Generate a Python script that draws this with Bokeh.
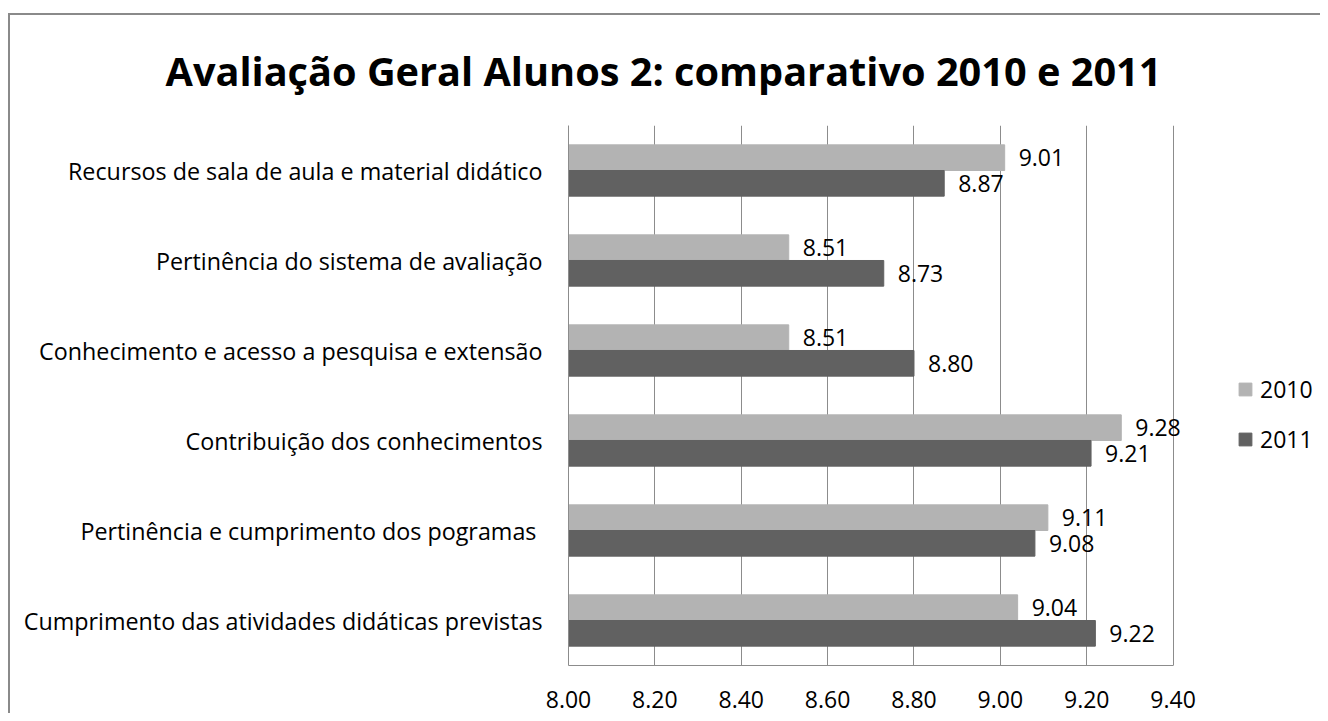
from bokeh.plotting import figure
from bokeh.models import (FactorRange, Range1d, FixedTicker, PrintfTickFormatter,
                          Legend, LegendItem, ColumnDataSource)
from bokeh.transform import dodge
from bokeh.core.properties import value
from bokeh.embed import file_html
from bokeh.resources import INLINE

# ---- data (top to bottom in the reference) ----
categories = [
    "Recursos de sala de aula e material didático",
    "Pertinência do sistema de avaliação",
    "Conhecimento e acesso a pesquisa e extensão",
    "Contribuição dos conhecimentos",
    "Pertinência e cumprimento  dos pogramas",
    "Cumprimento das atividades didáticas previstas",
]
values_2010 = [9.01, 8.51, 8.51, 9.28, 9.11, 9.04]
values_2011 = [8.87, 8.73, 8.80, 9.21, 9.08, 9.22]
series_names = ["2010", "2011"]
x_ticks = [8.0, 8.2, 8.4, 8.6, 8.8, 9.0, 9.2, 9.4]
x_start, x_last = 8.0, 9.4

FONT = "Open Sans"
C2010 = "#B3B3B3"
C2011 = "#616161"
GRID = "#8C8C8C"

# layout (pixels)
W, H = 1312, 700          # host size incl. 2px border
BL, BT = 558, 110          # frame offsets inside the canvas
AXIS_PX = 603              # pixel length of the 8.00 -> 9.40 axis
frame_w = (W - 2) - BL
x_end = x_start + (x_last - x_start) * frame_w / AXIS_PX

src = ColumnDataSource(dict(
    cat=categories,
    v2010=values_2010,
    v2011=values_2011,
    l2010=["%.2f" % v for v in values_2010],
    l2011=["%.2f" % v for v in values_2011],
))

p = figure(
    width=W, height=H,
    y_range=FactorRange(factors=list(reversed(categories))),
    x_range=Range1d(x_start, x_end),
    output_backend="svg", toolbar_location=None,
    min_border_left=BL, min_border_right=0,
    min_border_top=BT, min_border_bottom=50,
    styles={"border-left": "2px solid #8A8A8A", "border-top": "2px solid #8A8A8A",
            "margin-left": "8px", "margin-top": "13px"},
)

p.title.text = "Avaliação Geral Alunos 2: comparativo 2010 e 2011"
p.title.text_font = FONT
p.title.text_font_size = "39.7px"
p.title.text_font_style = "bold"
p.title.text_color = "#000000"
p.title.align = "left"
p.title.offset = -403
p.title.vertical_align = "top"
p.title.standoff = 51

bw = 0.285
r1 = p.hbar(y=dodge("cat", bw / 2, range=p.y_range), right="v2010", left=x_start,
            height=bw, source=src, fill_color=C2010, line_color=C2010)
r2 = p.hbar(y=dodge("cat", -bw / 2, range=p.y_range), right="v2011", left=x_start,
            height=bw, source=src, fill_color=C2011, line_color=C2011)

p.text(x="v2010", y=dodge("cat", bw / 2, range=p.y_range), text="l2010", source=src,
       x_offset=14, text_baseline="middle", text_align="left",
       text_font=value(FONT), text_font_size="23px", text_color="#000000")
p.text(x="v2011", y=dodge("cat", -bw / 2, range=p.y_range), text="l2011", source=src,
       x_offset=14, text_baseline="middle", text_align="left",
       text_font=value(FONT), text_font_size="23px", text_color="#000000")

# axes
p.xaxis.ticker = FixedTicker(ticks=x_ticks)
p.xaxis.formatter = PrintfTickFormatter(format="%.2f")
p.xaxis.bounds = (x_start, x_last)
for ax in (p.xaxis[0], p.yaxis[0]):
    ax.axis_line_color = GRID
    ax.axis_line_width = 1
    ax.major_tick_line_color = None
    ax.minor_tick_line_color = None
    ax.major_label_text_font = FONT
    ax.major_label_text_color = "#000000"
p.xaxis.major_label_text_font_size = "23px"
p.yaxis.major_label_text_font_size = "23.3px"
p.yaxis.major_label_standoff = 20
p.xaxis.major_label_standoff = 19

p.xgrid.grid_line_color = GRID
p.xgrid.grid_line_width = 1
p.ygrid.grid_line_color = None
p.outline_line_color = None
p.background_fill_color = "white"
p.border_fill_color = "white"

legend = Legend(
    items=[LegendItem(label=series_names[0], renderers=[r1]),
           LegendItem(label=series_names[1], renderers=[r2])],
    location=(669, 210),
    glyph_width=16, glyph_height=16, label_standoff=7,
    label_height=28, spacing=18, padding=0, margin=0,
    border_line_color=None, background_fill_alpha=0,
    label_text_font=FONT, label_text_font_size="23px", label_text_color="#000000",
)
p.add_layout(legend, "center")

open("out.html", "w").write(file_html(p, INLINE))
